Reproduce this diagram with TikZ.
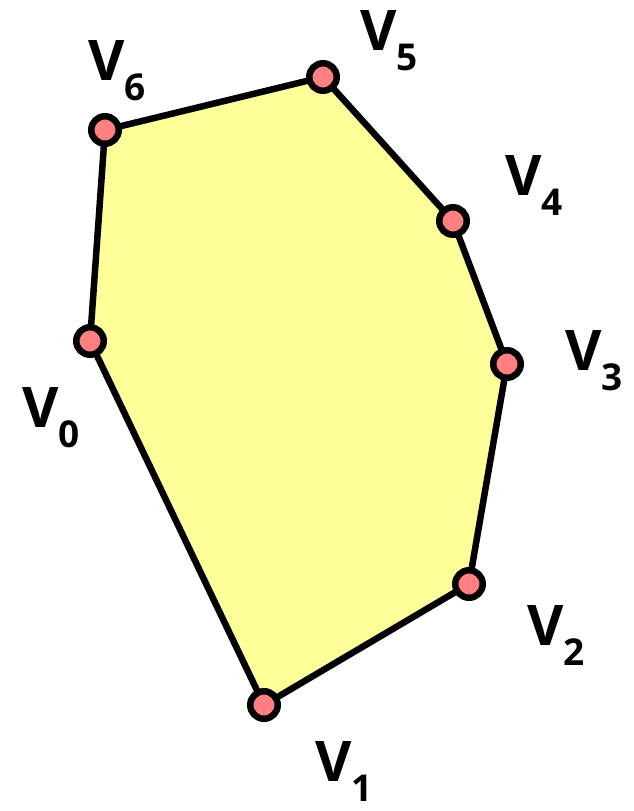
\documentclass[tikz,border=0pt]{standalone}
\usepackage{fontspec}
\setmainfont{Open Sans}
\definecolor{polyfill}{HTML}{FFFF99}
\definecolor{dotpink}{HTML}{FF8080}
\newcommand{\vlab}[1]{V\raisebox{-20pt}{\fontsize{37}{40}\selectfont #1}}

\begin{document}
\begin{tikzpicture}[x=1pt,y=-1pt,line join=round,
  vert/.style={circle,draw=black,fill=dotpink,line width=6.5pt,minimum size=27.5pt,inner sep=0pt},
  lab/.style={anchor=base west,inner sep=0pt,font=\fontsize{56}{60}\selectfont\bfseries}]
\useasboundingbox (0,0) rectangle (634,811);
% polygon corners
\coordinate (p0) at (90,341);
\coordinate (p1) at (264,705);
\coordinate (p2) at (469,584);
\coordinate (p3) at (507,364);
\coordinate (p4) at (453,221);
\coordinate (p5) at (323,77);
\coordinate (p6) at (105,130);
\filldraw[fill=polyfill,draw=black,line width=6.5pt]
  (p0) -- (p1) -- (p2) -- (p3) -- (p4) -- (p5) -- (p6) -- cycle;
% vertices
\foreach \i in {0,...,6}
  \node[vert] (v\i) at (p\i) {};
% labels
\node[lab] (l0) at (22,427) {\vlab{0}};
\node[lab] (l1) at (315,781) {\vlab{1}};
\node[lab] (l2) at (527,645) {\vlab{2}};
\node[lab] (l3) at (565,370) {\vlab{3}};
\node[lab] (l4) at (505,195) {\vlab{4}};
\node[lab] (l5) at (360,50) {\vlab{5}};
\node[lab] (l6) at (88,80) {\vlab{6}};
\end{tikzpicture}
\end{document}
